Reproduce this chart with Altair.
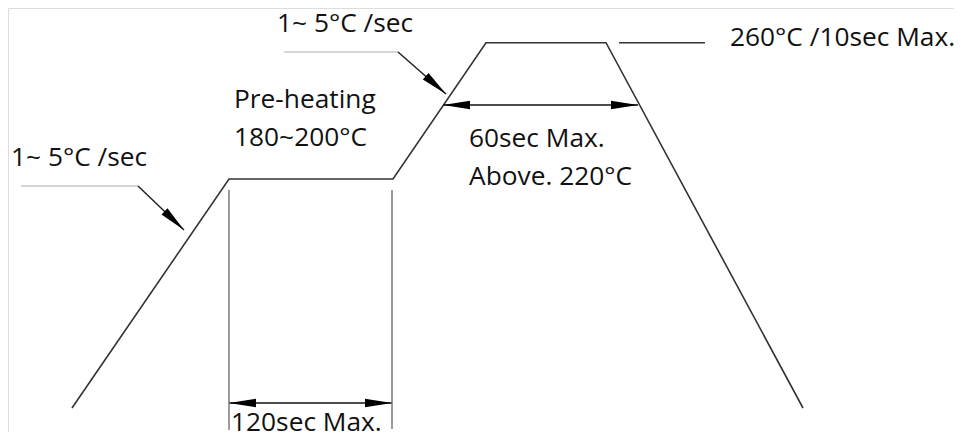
import altair as alt
import pandas as pd

# ---- Reflow profile (schematic, drawing coordinates) ----
profile_x = [72, 229, 393, 486, 606, 803]
profile_y = [408, 179, 179, 42.7, 42.7, 408]

# ---- Leader / dimension segments ----
seg_x1 = [443, 229, 229, 392, 619, 284, 398, 21, 138]
seg_y1 = [105, 403, 190, 190, 42.7, 52, 52, 186, 186]
seg_x2 = [638, 392, 229, 392, 705, 398, 446, 138, 184]
seg_y2 = [105, 403, 430, 429, 42.7, 52, 94, 186, 230]
seg_color = ["#111111", "#111111", "#7a7a7a", "#7a7a7a", "#333333",
             "#c8c8c8", "#222222", "#c8c8c8", "#222222"]

# ---- Arrowheads (tip position, direction in degrees clockwise) ----
arrow_x = [443, 638, 229, 392, 446, 184]
arrow_y = [105, 105, 403, 403, 94, 230]
arrow_angle = [180, 0, 180, 0, 41.2, 43.7]

# ---- Labels ----
label_text = ["1~ 5°C /sec", "Pre-heating", "180~200°C", "1~ 5°C /sec",
              "60sec Max.", "Above. 220°C", "260°C /10sec Max.", "120sec Max."]
label_x = [277, 234, 234, 11, 469, 469, 730, 231]
label_y = [32, 108, 146, 166, 147, 185, 46, 431]

profile_df = pd.DataFrame({"x": profile_x, "y": profile_y, "i": range(len(profile_x))})
seg_df = pd.DataFrame({"x": seg_x1, "y": seg_y1, "x2": seg_x2, "y2": seg_y2, "c": seg_color})
arrow_df = pd.DataFrame({"x": arrow_x, "y": arrow_y, "a": arrow_angle})
label_df = pd.DataFrame({"t": label_text, "x": label_x, "y": label_y})

xs = alt.Scale(domain=[8, 954], nice=False, zero=False)
ys = alt.Scale(domain=[8, 432], nice=False, zero=False, reverse=True)
X = lambda f: alt.X(f, type="quantitative", scale=xs, axis=None)
Y = lambda f: alt.Y(f, type="quantitative", scale=ys, axis=None)

profile = alt.Chart(profile_df).mark_line(color="#333333", strokeWidth=1.6).encode(
    x=X("x"), y=Y("y"), order="i:Q"
)

segs = alt.Chart(seg_df).mark_rule(strokeWidth=1.5).encode(
    x=X("x"), y=Y("y"), x2="x2:Q", y2="y2:Q",
    color=alt.Color("c:N", scale=None)
)

arrow_path = "M0,0 L-2,-0.32 L-2,0.32 Z"
arrows = alt.Chart(arrow_df).mark_point(
    shape=arrow_path, filled=True, color="#000000", size=729, opacity=1, strokeWidth=0
).encode(
    x=X("x"), y=Y("y"), angle=alt.Angle("a:Q", scale=None)
)

labels = alt.Chart(label_df).mark_text(
    align="left", baseline="alphabetic", font="Open Sans", fontSize=26.3, color="#111111"
).encode(
    x=X("x"), y=Y("y"), text="t:N"
)

chart = alt.layer(profile, segs, arrows, labels).properties(
    width=946, height=424, padding=0,
    autosize=alt.AutoSizeParams(type="none")
).configure_view(strokeWidth=0, stroke="transparent").configure(background="white")

chart.save("out.html", embed_options={"renderer": "svg", "actions": False})
